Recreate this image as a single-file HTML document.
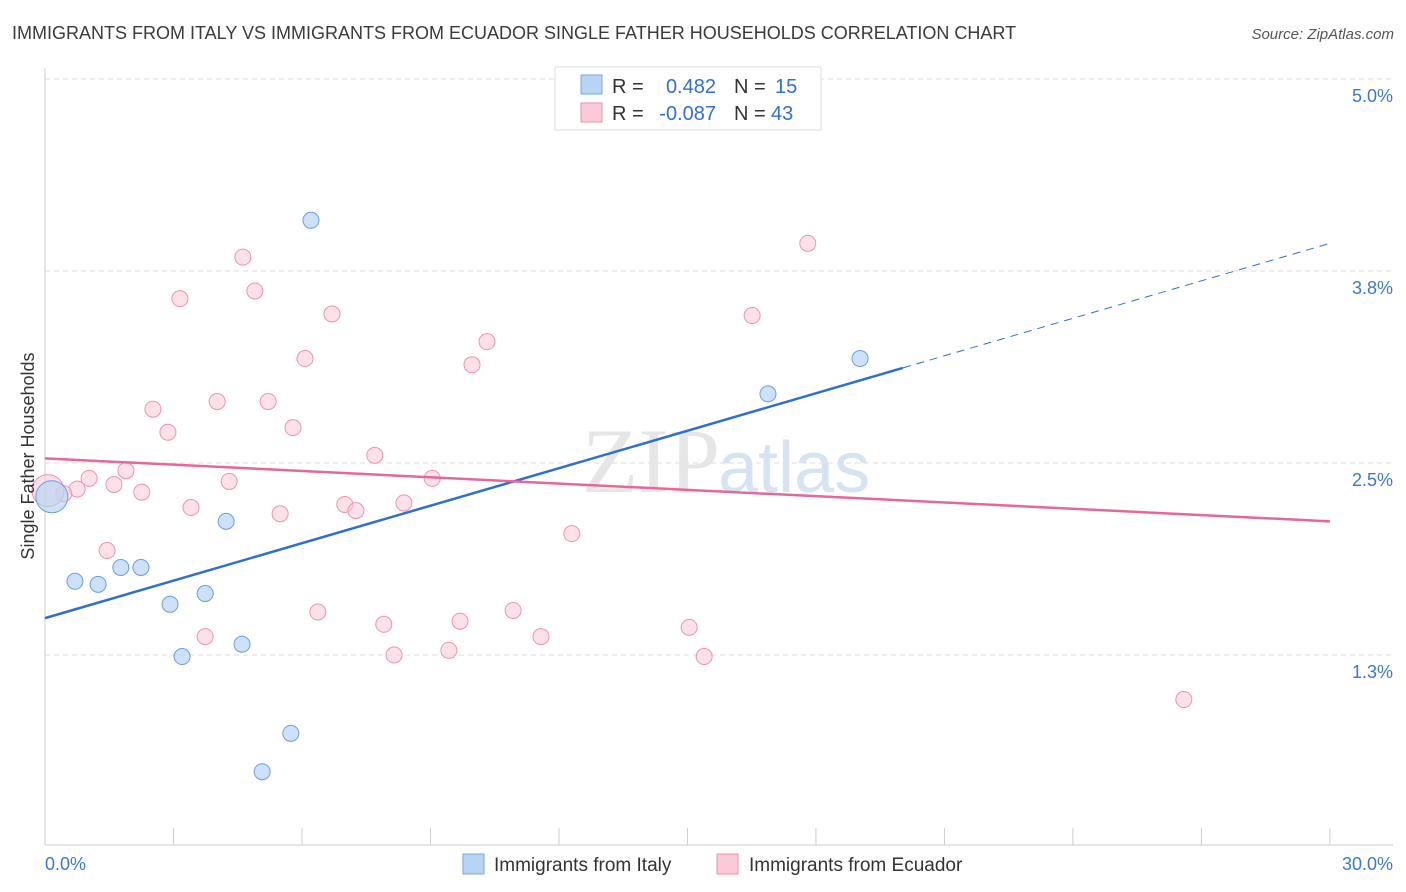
<!DOCTYPE html>
<html><head><meta charset="utf-8">
<style>
body{margin:0;background:#fff;font-family:"Liberation Sans",sans-serif;}
#wrap{position:relative;width:1406px;height:892px;overflow:hidden;}
</style></head>
<body>
<div id="wrap">
<svg id="svg" width="1406" height="892" xmlns="http://www.w3.org/2000/svg">
<text x="12" y="39" font-size="18" fill="#3a3a3a">IMMIGRANTS FROM ITALY VS IMMIGRANTS FROM ECUADOR SINGLE FATHER HOUSEHOLDS CORRELATION CHART</text>
<text x="1394" y="39" font-size="15" fill="#555" text-anchor="end" font-style="italic">Source: ZipAtlas.com</text>
<g id="grid"></g>
<text x="720" y="492" font-size="92" fill="#e6e6e6" text-anchor="end" font-family="Liberation Serif,serif">ZIP</text>
<text x="718" y="492" font-size="72" fill="#d5e3f3">atlas</text>
<g id="marks"></g>
<text transform="translate(34,456) rotate(-90)" font-size="18" fill="#333" text-anchor="middle">Single Father Households</text>
<g>
<rect x="555" y="67" width="266" height="63" fill="#fff" stroke="#ddd"/>
<rect x="581" y="75" width="21" height="19" fill="#b8d4f5" stroke="#7aa7e0"/>
<rect x="581" y="103" width="21" height="19" fill="#fbc9d7" stroke="#ee93ad"/>
<text x="612" y="93" font-size="20" fill="#333">R = </text><text x="716" y="93" font-size="20" fill="#2f6fd0" text-anchor="end">0.482</text>
<text x="734" y="93" font-size="20" fill="#333">N = </text><text x="775" y="93" font-size="20" fill="#2f6fd0">15</text>
<text x="612" y="120" font-size="20" fill="#333">R = </text><text x="716" y="120" font-size="20" fill="#2f6fd0" text-anchor="end">-0.087</text>
<text x="734" y="120" font-size="20" fill="#333">N = </text><text x="771" y="120" font-size="20" fill="#2f6fd0">43</text>
</g>
<g>
<rect x="463" y="854" width="21" height="20" fill="#b8d4f5" stroke="#7aa7e0"/>
<text x="494" y="871" font-size="19" fill="#333">Immigrants from Italy</text>
<rect x="717" y="854" width="21" height="20" fill="#fbc9d7" stroke="#ee93ad"/>
<text x="749" y="871" font-size="19" fill="#333">Immigrants from Ecuador</text>
</g>
</svg>
</div>
<script>
const italyX=[6.21,19.03,16.88,4.23,0.70,1.24,1.77,2.24,2.92,3.74,3.20,4.60,5.74,5.07,0.16];
const italyY=[4.08,3.18,2.95,2.12,1.73,1.71,1.82,1.82,1.58,1.65,1.24,1.32,0.74,0.49,2.28];
const ecuadorX=[4.62,17.81,3.15,4.90,6.70,16.51,6.07,10.32,9.97,2.52,4.02,5.21,2.87,5.79,7.70,1.03,1.89,1.61,0.75,0.44,2.26,4.30,9.04,3.41,5.49,7.00,7.26,8.38,12.30,1.45,6.37,7.91,9.69,10.93,3.74,11.58,15.04,8.15,9.43,15.39,26.59,0.07,16.13];
const ecuadorY=[3.84,3.93,3.57,3.62,3.47,3.46,3.18,3.29,3.14,2.85,2.90,2.90,2.70,2.73,2.55,2.40,2.45,2.36,2.33,2.30,2.31,2.38,2.40,2.21,2.17,2.23,2.19,2.24,2.04,1.93,1.53,1.45,1.47,1.54,1.37,1.37,1.43,1.25,1.28,1.24,0.96,2.32,4.86];
const yTicks=[5.0,3.75,2.5,1.25];
const yTickLabels=["5.0%","3.8%","2.5%","1.3%"];
const xTickVals=[0,3,6,9,12,15,18,21,24,27,30];
const italyTrend=[1.49,3.93];
const ecuadorTrend=[2.53,2.12];
const italySolidEnd=20.03;

const NS="http://www.w3.org/2000/svg";
const X=v=>45+v*42.83;
const Y=v=>847-v*153.6;
function mk(tag,attrs,parent){const e=document.createElementNS(NS,tag);for(const k in attrs)e.setAttribute(k,attrs[k]);parent.appendChild(e);return e;}
const grid=document.getElementById('grid'),marks=document.getElementById('marks');
yTicks.forEach((t,i)=>{
 const l=mk('line',{x1:45,x2:1393,y1:Y(t),y2:Y(t),stroke:'#ddd','stroke-dasharray':'5,4'},grid);
 
 
 const tx=mk('text',{x:1393,y:Y(t)+23,'font-size':18,fill:'#3a78d0','text-anchor':'end'},grid);
 tx.textContent=yTickLabels[i];
 
 
});
const ax=mk('line',{x1:45,x2:1393,y1:845,y2:845,stroke:'#ccc'},grid);


const ay=mk('line',{x1:45,x2:45,y1:68,y2:845,stroke:'#ccc'},grid);


xTickVals.forEach(t=>{
 const l=mk('line',{x1:X(t),x2:X(t),y1:828,y2:845,stroke:'#ccc'},grid);
 
 
});
const xl0=mk('text',{x:45,y:870,'font-size':18,fill:'#3a78d0'},grid);xl0.textContent='0.0%';


const xl1=mk('text',{x:1393,y:870,'font-size':18,fill:'#3a78d0','text-anchor':'end'},grid);xl1.textContent='30.0%';



ecuadorX.forEach((x,i)=>{
 const big=i===41;
 const c=mk('circle',{cx:X(x),cy:Y(ecuadorY[i]),r:big?16:8,fill:'#fbc9d7','fill-opacity':big?0.6:0.55,stroke:'#ee93ad','stroke-width':1},marks);
 
 
});
italyX.forEach((x,i)=>{
 const big=i===14;
 const c=mk('circle',{cx:X(x),cy:Y(italyY[i]),r:big?16:8,fill:'#b8d4f5','fill-opacity':0.7,stroke:'#6c9de0','stroke-width':1},marks);
 
 
});
const it=v=>italyTrend[0]+(italyTrend[1]-italyTrend[0])*v/30;
const t1=mk('line',{x1:X(0),y1:Y(it(0)),x2:X(italySolidEnd),y2:Y(it(italySolidEnd)),stroke:'#2f6fd0','stroke-width':2.5},marks);


const t2=mk('line',{x1:X(italySolidEnd),y1:Y(it(italySolidEnd)),x2:X(30),y2:Y(it(30)),stroke:'#2f6fd0','stroke-width':1,'stroke-dasharray':'8,6'},marks);


const t3=mk('line',{x1:X(0),y1:Y(ecuadorTrend[0]),x2:X(30),y2:Y(ecuadorTrend[1]),stroke:'#e8679a','stroke-width':2.5},marks);


</script>
</body></html>
